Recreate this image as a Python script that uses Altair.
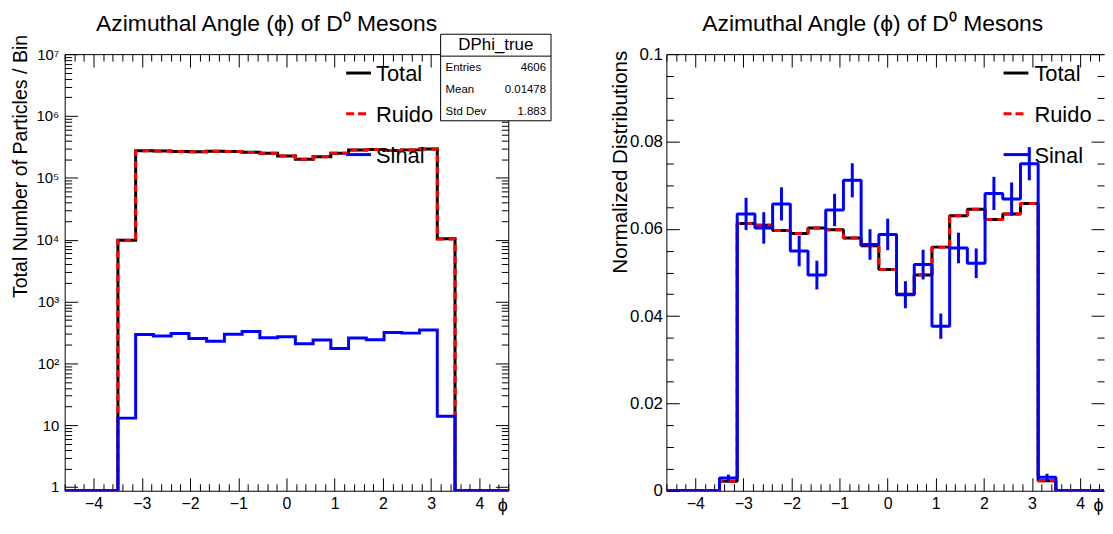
import numpy as np
import pandas as pd
import altair as alt

FONT = "Liberation Sans"

# ---------------- data ----------------
bin_lo, bin_hi, n_bins = -4.6, 4.6, 25

# left panel: counts per bin
total_counts = [0, 0, 0, 9800, 273000, 271000, 266000, 263000, 268000, 267000, 258000,
                250000, 226000, 200000, 220000, 249000, 281000, 288000, 277000, 283000,
                293000, 10300, 0, 0, 0]
ruido_counts = [0, 0, 0, 9790, 272700, 270700, 265700, 262750, 267770, 266700, 257670,
                249740, 225730, 199790, 219760, 248830, 280740, 287760, 276690, 282690,
                292660, 10290, 0, 0, 0]
sinal_counts = [0, 0, 0, 13, 292, 277, 303, 253, 228, 296, 327, 260, 270, 207, 239, 174,
                256, 240, 314, 308, 345, 14, 0, 0, 0]

# right panel: normalized distributions
total_norm = [0, 0, 0, 0.0022, 0.0612, 0.0608, 0.0596, 0.0589, 0.0602, 0.0598, 0.0579,
              0.0561, 0.0507, 0.0450, 0.0494, 0.0558, 0.0630, 0.0645, 0.0621, 0.0634,
              0.0658, 0.0023, 0, 0, 0]
ruido_norm = [0, 0, 0, 0.0022, 0.0612, 0.0608, 0.0596, 0.0589, 0.0602, 0.0598, 0.0579,
              0.0561, 0.0507, 0.0450, 0.0494, 0.0558, 0.0630, 0.0645, 0.0621, 0.0634,
              0.0658, 0.0023, 0, 0, 0]
sinal_norm = [0, 0, 0, 0.0029, 0.0634, 0.0602, 0.0657, 0.0549, 0.0494, 0.0643, 0.0711,
              0.0564, 0.0587, 0.0449, 0.0518, 0.0377, 0.0556, 0.0521, 0.0681, 0.0668,
              0.0749, 0.0031, 0, 0, 0]
sinal_err = [0, 0, 0, 0.0008, 0.0037, 0.0036, 0.0038, 0.0035, 0.0033, 0.0037, 0.0039,
             0.0035, 0.0036, 0.0031, 0.0034, 0.0029, 0.0035, 0.0034, 0.0038, 0.0038,
             0.0038, 0.0008, 0, 0, 0]

stats_rows = ["Entries", "Mean", "Std Dev"]
stats_vals = ["4606", "0.01478", "1.883"]
legend_names = ["Total", "Ruido", "Sinal"]

x_major = [-4, -3, -2, -1, 0, 1, 2, 3, 4]
x_minor = [round(-4.6 + 0.2 * i, 1) for i in range(47) if abs(round(-4.6 + 0.2 * i, 1) % 1) > 1e-6]
y_log_major = [1, 10, 100, 1000, 10000, 100000, 1000000, 10000000]
y_log_minor = [k * 10 ** n for n in range(0, 7) for k in range(2, 10)]
y_lin_major = [0, 0.02, 0.04, 0.06, 0.08, 0.1]
y_lin_minor = [round(0.005 * i, 3) for i in range(21) if i % 4 != 0]

TITLE = "Azimuthal Angle (ϕ) of D⁰ Mesons"

# ---------------- helpers ----------------
edges = np.linspace(bin_lo, bin_hi, n_bins + 1)
centers = (edges[:-1] + edges[1:]) / 2
W1, H = 446, 439
PX_PER_UNIT_R = 445 / (bin_hi - bin_lo)
W2 = 440                                  # right panel is cut by the window edge
X2_MAX = bin_lo + W2 / PX_PER_UNIT_R
YMIN = 0.87


def step_df(vals, floor=None, xmax=None):
    v = np.array(list(vals) + [vals[-1]], dtype=float)
    x = edges.copy()
    if floor is not None:
        v = np.where(v > 0, v, floor)
    if xmax is not None:
        x = np.minimum(x, xmax)
    return pd.DataFrame({"x": x, "y": v})


def tick_axis(orient, values, size, offset, domain=False):
    return alt.Axis(orient=orient, values=values, ticks=True, tickSize=size,
                    tickColor="black", tickWidth=1, labels=False, domain=domain,
                    domainColor="black", domainWidth=1, grid=False, title=None,
                    offset=offset, zindex=0)


def text_layer(txt, x, y, size, align="left", baseline="middle"):
    return alt.Chart(pd.DataFrame({"t": [txt]})).mark_text(
        align=align, baseline=baseline, fontSize=size, font=FONT, color="black"
    ).encode(x=alt.value(x), y=alt.value(y), text="t:N")


def rule_layer(x1, x2, y, color, width, dash=None):
    kw = dict(color=color, strokeWidth=width)
    if dash:
        kw["strokeDash"] = dash
    return alt.Chart(pd.DataFrame({"a": [0]})).mark_rule(**kw).encode(
        x=alt.value(x1), x2=alt.value(x2), y=alt.value(y))


def panel(kind):
    if kind == "log":
        W = W1
        xmax = bin_hi
        ydom = [YMIN, 1e7]
        ys = alt.Scale(type="log", domain=ydom, nice=False, clamp=True)
        tot, rui, sig = (step_df(total_counts, YMIN), step_df(ruido_counts, YMIN),
                         step_df(sinal_counts, YMIN))
        ymaj, ymin_ = y_log_major, y_log_minor
        label_expr = ("datum.value < 5 ? '1' : datum.value < 50 ? '10' : '10' + "
                      "['','','²','³','⁴','⁵','⁶','⁷'][round(log(datum.value)/LN10)]")
        ytitle, ytitle_x, ytitle_y, ytitle_fs = "Total Number of Particles / Bin", -38, -20, 19.7
        ylab_fs, ylab_pad = 15, 6
        right_frame = True
        leg_x1, leg_x2, leg_tx = 283, 308, 313
        title_x = W1 / 2 - 20
        join = "miter"
    else:
        W = W2
        xmax = X2_MAX
        ydom = [0, 0.1]
        ys = alt.Scale(domain=ydom, nice=False, zero=False)
        tot, rui, sig = (step_df(total_norm, xmax=xmax), step_df(ruido_norm, xmax=xmax),
                         step_df(sinal_norm, xmax=xmax))
        ymaj, ymin_ = y_lin_major, y_lin_minor
        label_expr = "format(datum.value, '~g')"
        ytitle, ytitle_x, ytitle_y, ytitle_fs = "Normalized Distributions", -40, -4, 20.7
        ylab_fs, ylab_pad = 17, 4
        right_frame = False
        leg_x1, leg_x2, leg_tx = 339, 364, 370
        title_x = 445 / 2 - 15
        join = "bevel"
    xs = alt.Scale(domain=[bin_lo, xmax], nice=False, zero=False)
    corners = pd.DataFrame({"x": [bin_lo, xmax], "y": ydom})

    x_lab = alt.Axis(orient="bottom", values=x_major, ticks=False, tickSize=0,
                     labelFontSize=16, labelFont=FONT, labelColor="black", labelPadding=5,
                     labelOverlap=False, labelFlush=False, domain=True, domainColor="black",
                     domainWidth=1, grid=False, title="ϕ", titleFont=FONT, titleFontSize=18,
                     titleFontWeight="normal", titleColor="black", titleX=W - 1, titleY=20,
                     titleAlign="right", titleBaseline="alphabetic", zindex=0)
    y_lab = alt.Axis(orient="left", values=ymaj, ticks=False, tickSize=0, labelExpr=label_expr,
                     labelFontSize=ylab_fs, labelFont=FONT, labelColor="black",
                     labelPadding=ylab_pad, labelOverlap=False, labelFlush=False, domain=True,
                     domainColor="black", domainWidth=1, grid=False, title=ytitle,
                     titleFont=FONT, titleFontSize=ytitle_fs, titleFontWeight="normal",
                     titleColor="black", titleX=ytitle_x, titleY=ytitle_y, titleAngle=270,
                     titleAlign="right", titleBaseline="alphabetic", zindex=0)

    def axis_layer(xa, ya):
        return alt.Chart(corners).mark_point(opacity=0, size=1).encode(
            x=alt.X("x:Q", scale=xs, axis=xa), y=alt.Y("y:Q", scale=ys, axis=ya))

    layers = [
        axis_layer(x_lab, y_lab),
        axis_layer(tick_axis("top", x_major, 13, -H), tick_axis("right", ymaj, 13, -W)),
        axis_layer(tick_axis("top", x_minor, 7, -H), tick_axis("right", ymin_, 7, -W)),
        axis_layer(tick_axis("bottom", x_major, 13, -H, domain=True),
                   tick_axis("left", ymaj, 13, -W, domain=right_frame)),
        axis_layer(tick_axis("bottom", x_minor, 7, -H), tick_axis("left", ymin_, 7, -W)),
    ]

    def hist(df, color, dash=None):
        kw = dict(color=color, strokeWidth=3, interpolate="step-after", clip=True,
                  strokeJoin=join)
        if dash:
            kw["strokeDash"] = dash
        return alt.Chart(df).mark_line(**kw).encode(
            x=alt.X("x:Q", scale=xs, axis=None), y=alt.Y("y:Q", scale=ys, axis=None))

    layers += [hist(tot, "black"), hist(rui, "#ff0000", [7, 5]), hist(sig, "#0000ff")]

    if kind == "lin":
        err = pd.DataFrame({"x": centers, "lo": np.array(sinal_norm) - np.array(sinal_err),
                            "hi": np.array(sinal_norm) + np.array(sinal_err),
                            "v": sinal_norm})
        err = err[err["v"] > 0]
        layers.append(alt.Chart(err).mark_rule(color="#0000ff", strokeWidth=3).encode(
            x=alt.X("x:Q", scale=xs, axis=None), y=alt.Y("lo:Q", scale=ys, axis=None),
            y2="hi:Q"))

    # legend
    leg_y = [19, 60, 101]
    layers += [
        rule_layer(leg_x1, leg_x2, leg_y[0], "black", 3),
        rule_layer(leg_x1, leg_x2 - 5, leg_y[1], "#ff0000", 3, [8, 4]),
        rule_layer(leg_x1, leg_x2, leg_y[2], "#0000ff", 3),
    ]
    for name, yy in zip(legend_names, leg_y):
        layers.append(text_layer(name, leg_tx, yy + 1, 22))

    if kind == "log":
        bx1, bx2, by1, by2 = 378, 489, -20, 67
        layers.append(alt.Chart(pd.DataFrame({"a": [0]})).mark_rect(
            fill="white", stroke="black", strokeWidth=1).encode(
            x=alt.value(bx1), x2=alt.value(bx2), y=alt.value(by1), y2=alt.value(by2)))
        layers.append(rule_layer(bx1, bx2, 2, "black", 1))
        layers.append(text_layer("DPhi_true", (bx1 + bx2) / 2, -9, 17, align="center"))
        for i, (lab, val) in enumerate(zip(stats_rows, stats_vals)):
            yy = 14 + 22 * i
            layers.append(text_layer(lab, bx1 + 5, yy, 11.5))
            layers.append(text_layer(val, bx2 - 5, yy, 11.5, align="right"))

    # panel title
    layers.append(text_layer(TITLE, title_x, -23, 23, align="center", baseline="alphabetic"))

    return alt.layer(*layers).resolve_axis(x="independent", y="independent").properties(
        width=W, height=H)


chart = alt.hconcat(panel("log"), panel("lin"), spacing=159, bounds="flush").properties(
    padding={"left": 3, "top": 4, "right": 0, "bottom": 0},
    background="white",
).configure_view(strokeWidth=0)

chart.save("out.html", embed_options={"renderer": "svg", "actions": False})
